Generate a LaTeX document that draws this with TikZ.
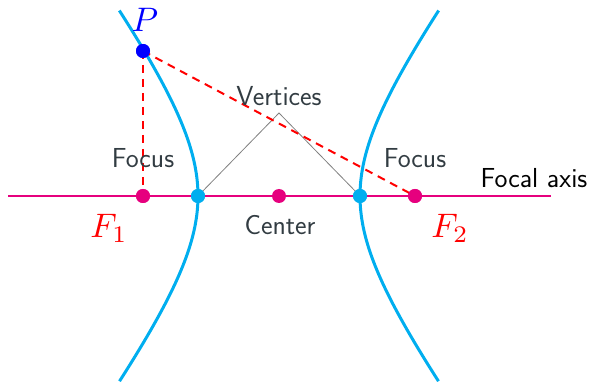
\documentclass[tikz,border=0pt]{standalone}
\usepackage{fontspec}
\definecolor{hypcyan}{RGB}{0,174,239}
\definecolor{axmag}{RGB}{230,0,126}
\definecolor{txtgray}{RGB}{50,60,66}
\newcommand{\bigmath}[1]{\scalebox{3.4}{$#1$}}
\begin{document}
\begin{tikzpicture}[x=1pt,y=-1pt,
  hyp/.style={draw=hypcyan,line width=3pt},
  axisline/.style={draw=axmag,line width=2pt},
  reddash/.style={draw=red,line width=2pt,dash pattern=on 8pt off 6pt},
  guide/.style={draw=gray,line width=0.8pt},
  dotbase/.style={circle,inner sep=0pt,minimum size=14pt},
  fdot/.style={dotbase,fill=axmag},
  vdot/.style={dotbase,fill=hypcyan},
  pdot/.style={dotbase,fill=blue},
  lbl/.style={font=\sffamily\fontsize{27.5}{32}\selectfont,text=txtgray},
  mlbl/.style={inner sep=0pt}
]
\useasboundingbox (0,0) rectangle (590,382);
% focal axis
\coordinate (axL) at (8,196);
\coordinate (axR) at (551,196);
\draw[axisline] (axL) -- (axR);
% hyperbola
\draw[hyp] plot[domain=-1.3:1.3,samples=80,variable=\t] ({279-81*cosh(\t)},{196+109.2*sinh(\t)});
\draw[hyp] plot[domain=-1.3:1.3,samples=80,variable=\t] ({279+81*cosh(\t)},{196+109.2*sinh(\t)});
% apex of vertex guides
\coordinate (apex) at (279,113);
\node[vdot] (V1) at (198,196) {};
\node[vdot] (V2) at (360,196) {};
\draw[guide] (V1.center) -- (apex) -- (V2.center);
\node[vdot] at (V1) {};
\node[vdot] at (V2) {};
% foci and centre
\node[fdot] (F1) at (143,196) {};
\node[fdot] (F2) at (415,196) {};
\node[fdot] (C) at (279,196) {};
% point P
\node[pdot] (P) at (143,51) {};
\draw[reddash] (P.center) -- (F1.center);
\draw[reddash] (P.center) -- (F2.center);
\node[pdot] at (P) {};
\node[fdot] at (F1) {};
\node[fdot] at (F2) {};
% labels
\node[mlbl,text=blue] (Plbl) at (145,20) {\bigmath{P}};
\node[mlbl,text=red] (F1lbl) at (109,228) {\bigmath{F_1}};
\node[mlbl,text=red] (F2lbl) at (450,228) {\bigmath{F_2}};
\node[lbl] (vert) at (279,96) {Vertices};
\node[lbl] (foc1) at (143,158) {Focus};
\node[lbl] (foc2) at (415,158) {Focus};
\node[lbl] (cen) at (280,225) {Center};
\node[lbl,text=black] (fax) at (534,178) {Focal axis};
\end{tikzpicture}
\end{document}
